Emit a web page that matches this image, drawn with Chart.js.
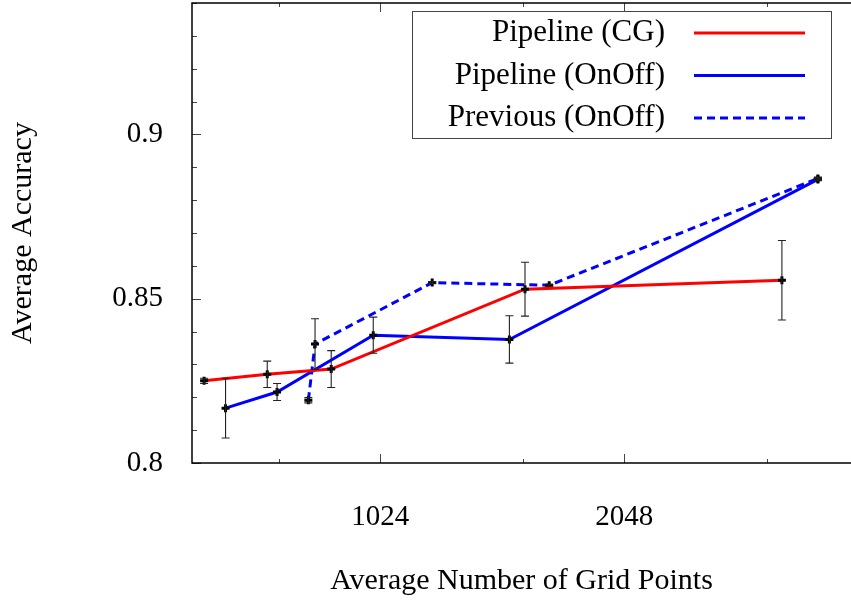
<!DOCTYPE html>
<html>
<head>
<meta charset="utf-8">
<script src="https://cdn.jsdelivr.net/npm/chart.js@4/dist/chart.umd.min.js"></script>
<style>
  html, body { margin: 0; padding: 0; background: #fff; }
  #chart { display: block; }
</style>
</head>
<body>
<canvas id="chart" width="851" height="600"></canvas>
<script>
// series (x = average grid points, y = accuracy, err = half bar)
var cgX = [621, 743, 891, 1545, 3205];
var cgY = [0.8250, 0.8270, 0.8286, 0.8529, 0.8556];
var cgErr = [0.0008, 0.0040, 0.0056, 0.0082, 0.0121];

var onoffX = [660, 764, 1004, 1478, 3550];
var onoffY = [0.8167, 0.8216, 0.8389, 0.8376, 0.8863];
var onoffErr = [0.0091, 0.0026, 0.0055, 0.0072, 0.0004];

var prevX = [835, 851, 1187, 1655, 3550];
var prevY = [0.8191, 0.8362, 0.8549, 0.8541, 0.8866];
var prevErr = [0.0008, 0.0077, 0.0003, 0.0003, 0.0004];

var xTicks = [768, 1024, 1536, 2048, 3072];
var xLabelled = [1024, 2048];

var FONT = "'Liberation Serif', 'Times New Roman', serif";

function pts(xs, ys) {
	var out = [];
	for (var i = 0; i < xs.length; i++) out.push({ x: xs[i], y: ys[i] });
	return out;
}

var errs = [cgErr, onoffErr, prevErr];

function noPad(scale) {
	scale.paddingTop = 0; scale.paddingBottom = 0;
	scale.paddingLeft = 0; scale.paddingRight = 0;
}

// error bars, inward ticks, frame and legend
var framePlugin = {
	id: 'frame',
	afterDatasetsDraw: function(chart) {
		var ctx = chart.ctx;
		var ys = chart.scales.y;
		ctx.save();
		ctx.strokeStyle = '#222';
		ctx.lineWidth = 1.1;
		chart.data.datasets.forEach(function(ds, di) {
			var meta = chart.getDatasetMeta(di);
			meta.data.forEach(function(el, i) {
				var v = ds.data[i].y;
				var e = errs[di][i];
				var x = el.x;
				var y1 = ys.getPixelForValue(v + e);
				var y2 = ys.getPixelForValue(v - e);
				ctx.beginPath();
				ctx.moveTo(x, y1); ctx.lineTo(x, y2);
				ctx.moveTo(x - 4, y1); ctx.lineTo(x + 4, y1);
				ctx.moveTo(x - 4, y2); ctx.lineTo(x + 4, y2);
				ctx.stroke();
			});
		});
		ctx.restore();
	},
	afterDraw: function(chart) {
		var ctx = chart.ctx;
		var ca = chart.chartArea;
		var xs = chart.scales.x, ys = chart.scales.y;
		ctx.save();
		ctx.strokeStyle = '#444';
		ctx.lineWidth = 1;
		ys.ticks.forEach(function(t) {
			var y = Math.round(ys.getPixelForValue(t.value)) + 0.5;
			var len = t.label ? 9 : 5;
			ctx.beginPath();
			ctx.moveTo(ca.left, y); ctx.lineTo(ca.left + len, y);
			ctx.stroke();
		});
		xs.ticks.forEach(function(t) {
			var x = Math.round(xs.getPixelForValue(t.value)) + 0.5;
			var len = t.label ? 9 : 4;
			ctx.beginPath();
			ctx.moveTo(x, ca.bottom); ctx.lineTo(x, ca.bottom - len);
			ctx.moveTo(x, ca.top); ctx.lineTo(x, ca.top + len);
			ctx.stroke();
		});
		ctx.strokeStyle = '#000';
		ctx.lineWidth = 1.5;
		ctx.beginPath();
		ctx.moveTo(chart.width, ca.top); ctx.lineTo(ca.left, ca.top);
		ctx.lineTo(ca.left, ca.bottom); ctx.lineTo(chart.width, ca.bottom);
		ctx.stroke();

		// legend, text on the left and line sample on the right
		var bx = ca.left + 220, by = ca.top + 8, bw = 419, bh = 127;
		ctx.fillStyle = '#fff';
		ctx.fillRect(bx, by, bw, bh);
		ctx.strokeStyle = '#444';
		ctx.lineWidth = 1;
		ctx.strokeRect(bx + 0.5, by + 0.5, bw, bh);
		ctx.font = '31px ' + FONT;
		ctx.textAlign = 'right';
		ctx.textBaseline = 'middle';
		chart.data.datasets.forEach(function(ds, i) {
			var cy = by + 22 + i * 42.5;
			ctx.fillStyle = '#000';
			ctx.fillText(ds.label, bx + 253, cy);
			ctx.strokeStyle = ds.borderColor;
			ctx.lineWidth = 3;
			ctx.setLineDash(ds.borderDash || []);
			ctx.beginPath();
			ctx.moveTo(bx + 282, cy); ctx.lineTo(bx + 393, cy);
			ctx.stroke();
			ctx.setLineDash([]);
		});
		ctx.restore();
	}
};

var ctx = document.getElementById('chart').getContext('2d');
var chart = new Chart(ctx, {
	type: 'line',
	data: {
		datasets: [{
			label: 'Pipeline (CG)',
			data: pts(cgX, cgY),
			borderColor: '#ff0000',
			borderWidth: 3
		}, {
			label: 'Pipeline (OnOff)',
			data: pts(onoffX, onoffY),
			borderColor: '#0000ff',
			borderWidth: 3
		}, {
			label: 'Previous (OnOff)',
			data: pts(prevX, prevY),
			borderColor: '#0000ff',
			borderWidth: 3,
			borderDash: [8, 5]
		}]
	},
	options: {
		responsive: false,
		animation: false,
		devicePixelRatio: 1,
		layout: { autoPadding: false, padding: { top: 3, left: 0, right: 0, bottom: 0 } },
		elements: {
			line: { tension: 0, fill: false },
			point: { pointStyle: 'cross', radius: 4, borderWidth: 1 }
		},
		datasets: {
			line: { pointBorderColor: '#000', pointBackgroundColor: '#000' }
		},
		plugins: {
			legend: { display: false },
			tooltip: { enabled: false }
		},
		scales: {
			x: {
				type: 'logarithmic',
				min: 600,
				max: 3900,
				afterBuildTicks: function(scale) {
					scale.ticks = xTicks.map(function(v) { return { value: v }; });
				},
				afterFit: function(scale) { scale.height = 137; noPad(scale); },
				grid: { display: false },
				border: { display: false },
				ticks: {
					autoSkip: false,
					maxRotation: 0,
					padding: 29,
					color: '#000',
					font: { family: FONT, size: 29 },
					callback: function(v) { return xLabelled.indexOf(v) >= 0 ? String(v) : ''; }
				},
				title: {
					display: true,
					text: 'Average Number of Grid Points',
					color: '#000',
					font: { family: FONT, size: 30 },
					padding: { top: 0, bottom: 1 }
				}
			},
			y: {
				min: 0.8,
				max: 0.94,
				afterFit: function(scale) { scale.width = 192; noPad(scale); },
				grid: { display: false },
				border: { display: false },
				ticks: {
					stepSize: 0.01,
					autoSkip: false,
					padding: 21,
					color: '#000',
					font: { family: FONT, size: 29 },
					callback: function(v) {
						var k = Math.round(v * 100);
						return (k % 5 === 0 && k <= 90) ? String(k / 100) : '';
					}
				},
				title: {
					display: true,
					text: 'Average Accuracy',
					color: '#000',
					font: { family: FONT, size: 30 },
					padding: { top: 5, bottom: 0 }
				}
			}
		}
	},
	plugins: [framePlugin]
});
</script>
</body>
</html>
